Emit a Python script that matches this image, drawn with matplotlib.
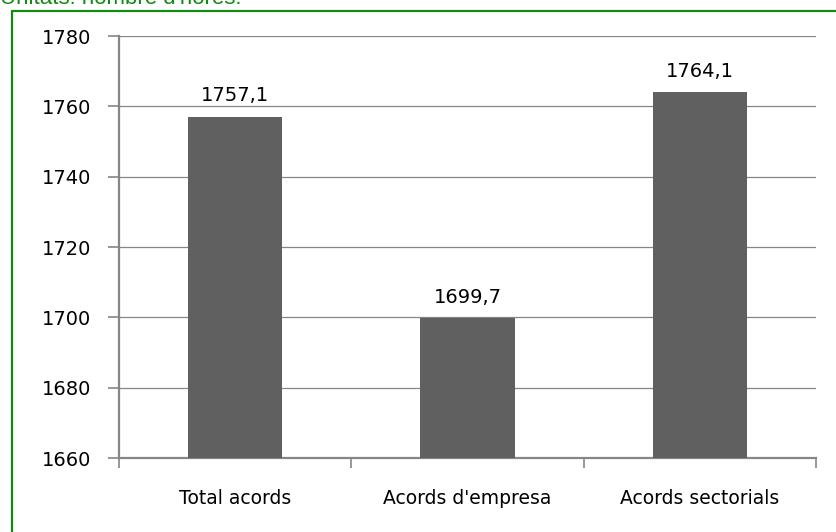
import matplotlib
matplotlib.use("Agg")
import matplotlib.pyplot as plt
import matplotlib.patches as patches

categories = ["Total acords", "Acords d'empresa", "Acords sectorials"]
hours = [1757.1, 1699.7, 1764.1]
yticks = [1660, 1680, 1700, 1720, 1740, 1760, 1780]

GREEN = "#128a12"
AXIS_GRAY = "#868686"
BAR_COLOR = "#606060"

plt.rcParams["font.family"] = ["DejaVu Sans"]

fig = plt.figure(figsize=(8.36, 5.32), dpi=100)
W, H = 836, 532

# green frame (runs past right/bottom edge)
frame = patches.Rectangle((11.5 / W, -0.05), 1.0, 1 - 10.5 / H + 0.05,
                          transform=fig.transFigure, fill=False,
                          edgecolor=GREEN, linewidth=1.6, clip_on=False)
fig.patches.append(frame)

# title sits mostly above the top edge, as in the original
fig.text(0.0, 1 - 4.5 / H, "Unitats: nombre d'hores.", color=GREEN,
         fontsize=16, family="Liberation Sans", ha="left", va="baseline")

ax = fig.add_axes([119 / W, 1 - 458 / H, (816 - 119) / W, (458 - 36) / H])

x = list(range(len(categories)))
bars = ax.bar(x, hours, width=0.405, color=BAR_COLOR, zorder=3)

ax.set_ylim(1660, 1780)
ax.set_xlim(-0.5, 2.5)
ax.set_yticks(yticks)
ax.set_yticklabels([str(v) for v in yticks], fontsize=14)
ax.grid(axis="y", color=AXIS_GRAY, linewidth=0.9, zorder=0)

ax.set_xticks([-0.5, 0.5, 1.5, 2.5])
ax.set_xticklabels([])
ax.set_xticks(x, minor=True)
ax.set_xticklabels(categories, minor=True, fontsize=13.5)
ax.tick_params(axis="x", which="minor", length=0, pad=22)
ax.tick_params(axis="x", which="major", length=7, color=AXIS_GRAY, width=1.2)
ax.tick_params(axis="y", length=8, color=AXIS_GRAY, width=1.2, pad=12)

for side in ["top", "right"]:
    ax.spines[side].set_visible(False)
for side in ["left", "bottom"]:
    ax.spines[side].set_color(AXIS_GRAY)
    ax.spines[side].set_linewidth(1.6)

for b, v in zip(bars, hours):
    ax.annotate(f"{v:.1f}".replace(".", ","),
                (b.get_x() + b.get_width() / 2, v),
                xytext=(0, 11), textcoords="offset points",
                ha="center", va="baseline", fontsize=14)

fig.savefig("out.png", dpi=100)
